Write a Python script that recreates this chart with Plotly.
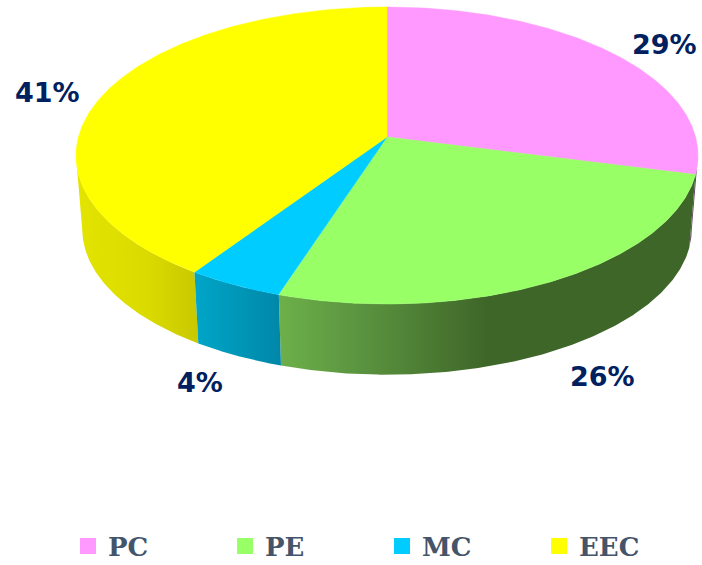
import numpy as np
import plotly.graph_objects as go

categories = ["PC", "PE", "MC", "EEC"]
values = [29, 26, 4.45, 40.55]
top_colors = ["#FF99FF", "#99FF66", "#00CCFF", "#FFFF00"]
side_scales = [
    [[0, "#6e4a6e"], [1, "#5a3c5a"]],
    [[0, "#6DB04A"], [0.2, "#5A933F"], [0.5, "#3E6628"], [1, "#3E6628"]],
    [[0, "#00A6C8"], [1, "#0087A8"]],
    [[0, "#E4E400"], [0.6, "#DADA00"], [1, "#C8C800"]],
]
label_positions = [(664, 44), (602, 376), (200, 382), (47, 92)]

CX, CY = 387, 137
A, B, K = 308.6, 146.2, 0.1246
DEPTH, SHRINK = 74, 0.98
FRONT = np.arccos(-K) / (2 * np.pi)  # fraction of a turn where the rim turns to the front


def project(frac, base=False):
    t = 2 * np.pi * np.asarray(frac)
    u, v = np.sin(t), np.cos(t)
    w = 1 + K * v
    x, y = A * u / w, -B * v / w
    if base:
        return CX + SHRINK * x, CY + SHRINK * y + DEPTH
    return CX + x, CY + y


fig = go.Figure()
total = sum(values)
edges = np.cumsum([0] + values) / total
arcs = [np.linspace(edges[i], edges[i + 1], 200) for i in range(len(values))]

# side walls: only the part of each slice's rim that faces the viewer
for i in [0, 3, 1, 2]:
    lo, hi = max(edges[i], FRONT), min(edges[i + 1], 1 - FRONT)
    if lo >= hi:
        continue
    rim = np.linspace(lo, hi, 200)
    tx, ty = project(rim)
    bx, by = project(rim, base=True)
    fig.add_trace(go.Scatter(
        x=np.r_[tx, bx[::-1]], y=np.r_[ty, by[::-1]], mode="lines",
        line=dict(width=0), fill="toself", hoverinfo="skip", showlegend=False,
        fillgradient=dict(type="horizontal", colorscale=side_scales[i],
                          start=float(min(tx.min(), bx.min())),
                          stop=float(max(tx.max(), bx.max()))),
    ))

# top faces
for i in range(len(values)):
    tx, ty = project(arcs[i])
    fig.add_trace(go.Scatter(
        x=np.r_[CX, tx, CX], y=np.r_[CY, ty, CY], mode="lines",
        line=dict(width=0.5, color=top_colors[i]), fill="toself",
        fillcolor=top_colors[i], hoverinfo="skip", showlegend=False,
    ))

# legend entries
for name, col in zip(categories, top_colors):
    fig.add_trace(go.Scatter(
        x=[None], y=[None], mode="markers", name=name,
        marker=dict(symbol="square", size=16, color=col),
    ))

for v, (lx, ly) in zip(values, label_positions):
    fig.add_annotation(x=lx, y=ly, text=f"<b>{round(v)}%</b>", showarrow=False,
                       font=dict(family="DejaVu Sans", size=27, color="#002060"))

fig.update_layout(
    width=702, height=565, margin=dict(l=0, r=0, t=0, b=0, autoexpand=False),
    paper_bgcolor="white", plot_bgcolor="white",
    xaxis=dict(range=[0, 702], visible=False, fixedrange=True),
    yaxis=dict(range=[565, 0], visible=False, fixedrange=True),
    legend=dict(orientation="h", x=0.0969, xanchor="left", y=0.0336, yanchor="middle",
                entrywidth=112, entrywidthmode="pixels", traceorder="normal",
                itemsizing="trace", bgcolor="rgba(0,0,0,0)",
                font=dict(family="DejaVu Serif", size=26, color="#44546A", weight="bold")),
)
fig.write_html("out.html", config={"displayModeBar": False},
               post_script="document.body.style.margin='0';")
